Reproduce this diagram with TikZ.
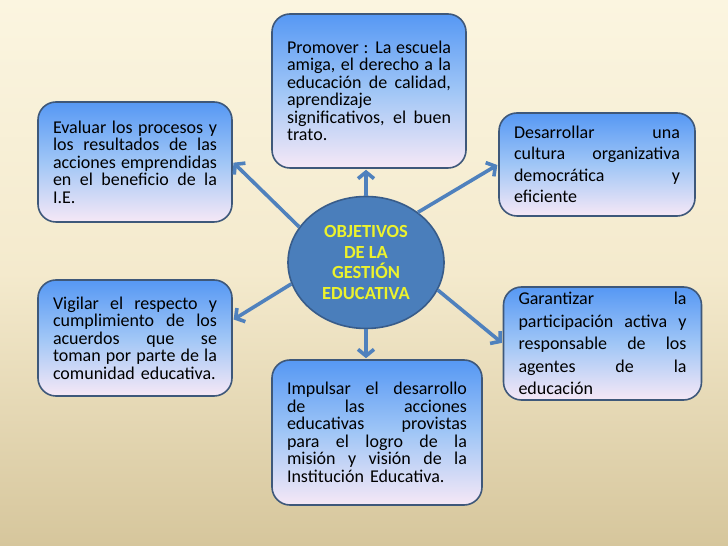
\documentclass[tikz,border=0pt]{standalone}
\usepackage{fontspec}
\setmainfont{Carlito}
\usetikzlibrary{arrows.meta,shapes.geometric}
\definecolor{bgtop}{RGB}{251,245,224}
\definecolor{bgmid}{RGB}{244,234,205}
\definecolor{bgbot}{RGB}{214,198,156}
\definecolor{boxtop}{RGB}{86,152,244}
\definecolor{boxmid}{RGB}{160,198,246}
\definecolor{boxbot}{RGB}{246,232,246}
\definecolor{boxline}{RGB}{62,88,122}
\definecolor{arrowc}{RGB}{79,129,189}
\definecolor{ellfill}{RGB}{74,126,187}
\definecolor{ellline}{RGB}{56,92,138}
\definecolor{ytext}{RGB}{236,242,45}
\newcommand\jl[1]{\makebox[\hsize][s]{\spaceskip=0pt\xspaceskip=0pt #1}}
\begin{document}
\begin{tikzpicture}[x=1pt,y=1pt,
  goalbox/.style={draw=boxline, line width=1.6pt, rounded corners=18pt,
    top color=boxtop, bottom color=boxbot, middle color=boxmid,
    inner xsep=15pt, inner ysep=0pt, align=left,
    font=\fontsize{18}{17.5}\selectfont},
  centre/.style={ellipse, draw=ellline, line width=1.6pt, fill=ellfill,
    minimum width=156pt, minimum height=132pt, inner sep=0pt,
    align=center, text=ytext, font=\fontsize{18.5}{20.5}\selectfont\bfseries},
  conn/.style={draw=arrowc, line width=3.6pt,
    -{Straight Barb[length=6.5pt,width=16pt]}, shorten >=1pt}
]
\useasboundingbox (0,0) rectangle (728,546);
\shade[top color=bgtop, bottom color=bgbot, middle color=bgmid] (0,0) rectangle (728,546);

\node[centre] (c) at (366,283.5) {OBJETIVOS\\DE LA\\GESTIÓN\\EDUCATIVA};

\node[goalbox, text width=164pt, minimum height=154pt] (top) at (369,455)
 {\jl{Promover : La escuela}\\
  \jl{amiga, el derecho a la}\\
  \jl{educación de calidad,}\\
  aprendizaje\\
  \jl{significativos, el buen}\\
  trato.};

\node[goalbox, text width=164pt, minimum height=120pt] (lt) at (135,384)
 {\jl{Evaluar los procesos y}\\
  \jl{los resultados de las}\\
  \jl{acciones emprendidas}\\
  \jl{en el beneficio de la}\\
  I.E.};

\node[goalbox, text width=166pt, minimum height=103pt,
  font=\fontsize{18}{21.5}\selectfont] (rt) at (597,381.5)
 {\jl{Desarrollar una}\\
  \jl{cultura organizativa}\\
  \jl{democrática y}\\
  eficiente};

\node[goalbox, text width=164pt, minimum height=116pt] (lb) at (135,208)
 {\jl{Vigilar el respecto y}\\
  \jl{cumplimiento de los}\\
  \jl{acuerdos que se}\\
  \jl{toman por parte de la}\\
  comunidad educativa.};

\node[goalbox, text width=168pt, minimum height=113pt,
  font=\fontsize{18}{22.5}\selectfont] (rb) at (602.5,202.5)
 {\jl{Garantizar la}\\
  \jl{participación activa y}\\
  \jl{responsable de los}\\
  \jl{agentes de la}\\
  educación};

\node[goalbox, text width=180pt, minimum height=145pt] (bot) at (377,113.5)
 {\jl{Impulsar el desarrollo}\\
  \jl{de las acciones}\\
  \jl{educativas provistas}\\
  \jl{para el logro de la}\\
  \jl{misión y visión de la}\\
  Institución Educativa.};

\draw[conn] (c.north) -- (c.north |- top.south);
\draw[conn] (c.152) -- (lt.east);
\draw[conn] (c.44) -- (rt.west);
\draw[conn] (c.196) -- ([yshift=18pt]lb.east);
\draw[conn] (c.339) -- (rb.west);
\draw[conn] (c.south) -- (c.south |- bot.north);
\end{tikzpicture}
\end{document}
